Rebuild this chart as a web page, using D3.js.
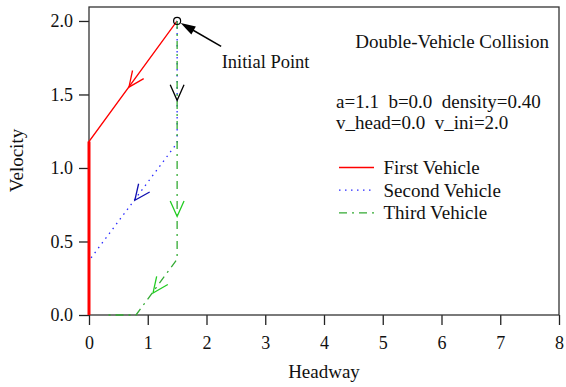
<!DOCTYPE html>
<html>
<head>
<meta charset="utf-8">
<script src="https://cdn.jsdelivr.net/npm/d3@7"></script>
<style>
body { margin: 0; background: #fff; }
text { font-family: "Liberation Serif", "Times New Roman", serif; fill: #111; }
</style>
</head>
<body>
<script>
var width = 566;
var height = 387;
var margin = {top: 7, right: 7, bottom: 72, left: 89};
var w = width - margin.left - margin.right;
var h = height - margin.top - margin.bottom;

// axis ticks
var xTicks = [0, 1, 2, 3, 4, 5, 6, 7, 8];
var yTicks = [0.0, 0.5, 1.0, 1.5, 2.0];

// trajectories (headway, velocity)
var seriesNames = ["First Vehicle", "Second Vehicle", "Third Vehicle"];
var firstHeadway = [1.5, 0, 0];
var firstVelocity = [2.0, 1.18, 0];
var secondHeadway = [1.5, 1.5, 0];
var secondVelocity = [2.0, 1.17, 0.37];
var thirdHeadway = [1.5, 1.5, 0.8, 0.27];
var thirdVelocity = [2.0, 0.38, 0, 0];

// direction arrows: position + which series/segment gives the direction
var arrowHeadway = [0.68, 0.78, 1.5, 1.5, 1.09];
var arrowVelocity = [1.55, 0.78, 1.46, 0.67, 0.15];
var arrowSeries = [0, 1, 2, 2, 2];
var arrowSegment = [0, 1, 0, 0, 1];
var arrowColor = ["#ff0000", "#1010b0", "#000000", "#22cc22", "#22cc22"];

var initialPoint = [1.5, 2.0];
var titleText = "Double-Vehicle Collision";
var paramLines = ["a=1.1  b=0.0  density=0.40", "v_head=0.0  v_ini=2.0"];

var colors = ["#ff0000", "#2a2aff", "#33aa33"];
var dashes = [null, "1.5,4.5", "8,5,2,5"];

var series = [
	{x: firstHeadway, y: firstVelocity},
	{x: secondHeadway, y: secondVelocity},
	{x: thirdHeadway, y: thirdVelocity}
].map(function(s) {
	return s.x.map(function(v, i) { return [v, s.y[i]]; });
});

var svg = d3.select("body").append("svg")
	.attr("width", width)
	.attr("height", height);

var chart = svg.append("g")
	.attr("transform", "translate(" + margin.left + "," + margin.top + ")");

var x = d3.scaleLinear()
	.domain([0, 8])
	.range([0, w]);

var y = d3.scaleLinear()
	.domain([0, 2.095])
	.range([h, 0]);

var xAxis = d3.axisBottom(x)
	.tickValues(xTicks)
	.tickFormat(d3.format("d"))
	.tickSize(10)
	.tickSizeOuter(0)
	.tickPadding(11);

var yAxis = d3.axisLeft(y)
	.tickValues(yTicks)
	.tickFormat(d3.format(".1f"))
	.tickSize(10)
	.tickSizeOuter(0)
	.tickPadding(6);

chart.append("g")
	.attr("transform", "translate(0," + h + ")")
	.call(xAxis);

chart.append("g")
	.call(yAxis);

chart.selectAll(".tick line").attr("stroke", "#222").attr("stroke-width", 1.3);
chart.selectAll(".domain").remove();
chart.selectAll(".tick text")
	.style("font-size", "18px")
	.style("font-family", "Liberation Serif")
	.attr("fill", "#111");

// frame
chart.append("rect")
	.attr("width", w)
	.attr("height", h)
	.attr("fill", "none")
	.attr("stroke", "#333")
	.attr("stroke-width", 1.3);

// trajectories, drawn segment by segment so the crash segment on the axis stands out
var line = d3.line()
	.x(function(d) { return x(d[0]); })
	.y(function(d) { return y(d[1]); });

series.forEach(function(pts, si) {
	chart.append("path")
		.datum(pts)
		.attr("d", line)
		.attr("fill", "none")
		.attr("stroke", colors[si])
		.attr("stroke-width", 1.3)
		.attr("stroke-dasharray", dashes[si]);
});

// first vehicle rests against the axis: thicker
chart.append("path")
	.datum(series[0].filter(function(d) { return d[0] === 0; }))
	.attr("d", line)
	.attr("fill", "none")
	.attr("stroke", colors[0])
	.attr("stroke-width", 3);

// direction arrows (open V heads)
var L = 17, th = 24 * Math.PI / 180;
arrowHeadway.forEach(function(ah, i) {
	var pts = series[arrowSeries[i]];
	var a = pts[arrowSegment[i]], b = pts[arrowSegment[i] + 1];
	var dx = x(b[0]) - x(a[0]), dy = y(b[1]) - y(a[1]);
	var ang = Math.atan2(-dy, -dx);
	var tx = x(ah), ty = y(arrowVelocity[i]);
	var p1 = [tx + L * Math.cos(ang + th), ty + L * Math.sin(ang + th)];
	var p2 = [tx + L * Math.cos(ang - th), ty + L * Math.sin(ang - th)];
	chart.append("path")
		.attr("d", "M" + p1 + "L" + [tx, ty] + "L" + p2)
		.attr("fill", "none")
		.attr("stroke", arrowColor[i])
		.attr("stroke-width", 1.3);
});

// initial point marker and annotation
var ix = x(initialPoint[0]), iy = y(initialPoint[1]);
chart.append("circle")
	.attr("cx", ix)
	.attr("cy", iy)
	.attr("r", 3.5)
	.attr("fill", "none")
	.attr("stroke", "#000")
	.attr("stroke-width", 1.2);

var lx = ix + 44, ly = iy + 25.5;
var tipx = ix + 3.5, tipy = iy + 2;
var aa = Math.atan2(ly - tipy, lx - tipx);
chart.append("line")
	.attr("x1", lx).attr("y1", ly)
	.attr("x2", tipx + 10 * Math.cos(aa)).attr("y2", tipy + 10 * Math.sin(aa))
	.attr("stroke", "#000")
	.attr("stroke-width", 1.5);
chart.append("path")
	.attr("d", "M" + [tipx, tipy] +
		"L" + [tipx + 15 * Math.cos(aa) - 4.5 * Math.sin(aa), tipy + 15 * Math.sin(aa) + 4.5 * Math.cos(aa)] +
		"L" + [tipx + 15 * Math.cos(aa) + 4.5 * Math.sin(aa), tipy + 15 * Math.sin(aa) - 4.5 * Math.cos(aa)] + "Z")
	.attr("fill", "#000");

chart.append("text")
	.attr("x", ix + 44.5)
	.attr("y", iy + 47)
	.style("font-size", "18.5px")
	.text("Initial Point");

// title + parameters
chart.append("text")
	.attr("x", w - 10)
	.attr("y", 41.3)
	.style("text-anchor", "end")
	.style("font-size", "19px")
	.text(titleText);

chart.selectAll(".param")
	.data(paramLines)
	.enter().append("text")
	.attr("class", "param")
	.attr("x", 247)
	.attr("y", function(d, i) { return 101.3 + i * 21; })
	.style("font-size", "19px")
	.style("white-space", "pre")
	.attr("xml:space", "preserve")
	.text(function(d) { return d; });

// legend
var legend = chart.selectAll(".legend")
	.data(seriesNames)
	.enter().append("g")
	.attr("class", "legend")
	.attr("transform", function(d, i) { return "translate(250," + (160.5 + i * 22.7) + ")"; });

legend.append("line")
	.attr("x1", 0).attr("x2", 35)
	.attr("stroke", function(d, i) { return colors[i]; })
	.attr("stroke-width", 1.3)
	.attr("stroke-dasharray", function(d, i) { return dashes[i]; });

legend.append("text")
	.attr("x", 44.5)
	.attr("y", 6.5)
	.style("font-size", "19px")
	.text(function(d) { return d; });

// axis titles
svg.append("text")
	.attr("x", margin.left + w / 2)
	.attr("y", 377.5)
	.style("text-anchor", "middle")
	.style("font-size", "19px")
	.text("Headway");

svg.append("text")
	.attr("transform", "translate(23,160.5) rotate(-90)")
	.style("text-anchor", "middle")
	.style("font-size", "19px")
	.text("Velocity");
</script>
</body>
</html>
